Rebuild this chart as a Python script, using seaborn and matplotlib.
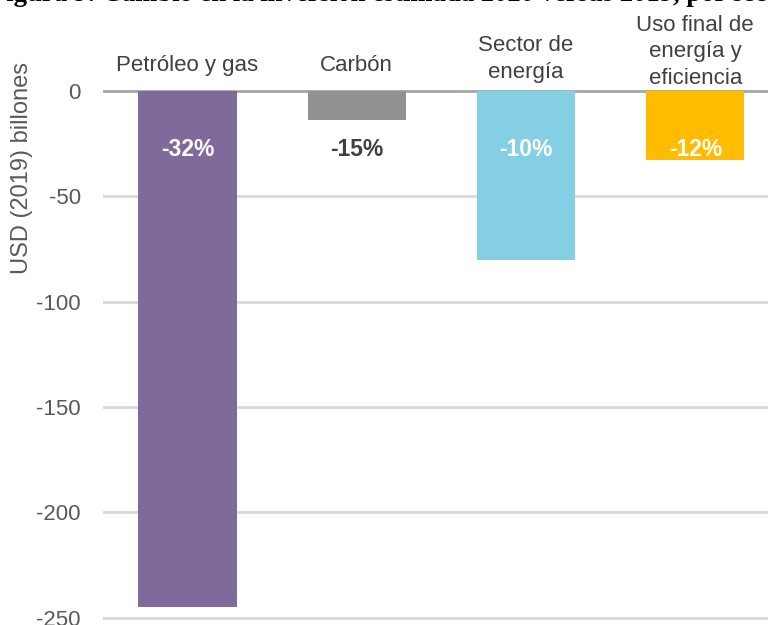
import pandas as pd
import seaborn as sns
import matplotlib.pyplot as plt

categories = ['Petróleo y gas', 'Carbón', 'Sector de\nenergía', 'Uso final de\nenergía y\neficiencia']
values = [-245, -14, -80, -33]
pct_labels = ['-32%', '-15%', '-10%', '-12%']
colors = ['#806a9b', '#929292', '#84cfe3', '#ffbc00']
pct_colors = ['white', '#404040', 'white', 'white']
yticks = [0, -50, -100, -150, -200, -250]

# vertical centre of each category label, pixels from the top of the figure
label_centres = [66, 66, 59, 52]

df = pd.DataFrame({'sector': categories, 'value': values})

sns.set_style('white')
plt.rcParams['font.family'] = ['Liberation Sans', 'DejaVu Sans']
plt.rcParams['axes.unicode_minus'] = False

fig = plt.figure(figsize=(7.68, 6.25), dpi=100)
ax = fig.add_axes([0.134, 0.008, 0.8815, 0.850])

sns.barplot(data=df, x='sector', y='value', hue='sector', palette=colors,
            legend=False, width=0.58, saturation=1, linewidth=0, ax=ax)

ax.set_ylim(-251, 1)
ax.set_xlim(-0.5, 3.5)
ax.set_yticks(yticks)
for t in yticks:
    if t == 0:
        ax.axhline(t, color='#a6a6a6', lw=2, zorder=0.5)
    else:
        ax.axhline(t, color='#d9d9d9', lw=2, zorder=0.5)

for i, (lab, c) in enumerate(zip(pct_labels, pct_colors)):
    ax.text(i, -28, lab, ha='center', va='center', fontsize=16.5,
            fontweight='bold', color=c)

# category names above the zero line
ax.set_xticks(range(len(categories)))
ax.set_xticklabels([])
ax.tick_params(axis='x', length=0)
for i, (cat, yc) in enumerate(zip(categories, label_centres)):
    ax.text(i, (620.1 - yc) / 531.2, cat, transform=ax.get_xaxis_transform(),
            ha='center', va='center', fontsize=16, color='#404040',
            linespacing=1.35, clip_on=False)

ax.tick_params(axis='y', length=0, pad=16, labelsize=16, labelcolor='#595959')
ax.set_xlabel('')
ax.set_ylabel('USD (2019) billones', fontsize=17, color='#595959')
ax.yaxis.set_label_coords(-0.1034, 0.851)
sns.despine(ax=ax, left=True, bottom=True)

fig.text(-0.013, 0.9888, 'Figura 9: Cambio en la inversión estimada 2020 versus 2019, por sector',
         family='Liberation Serif', fontweight='bold', fontsize=19.2,
         ha='left', va='bottom', color='black')

fig.savefig('out.png', dpi=100)
